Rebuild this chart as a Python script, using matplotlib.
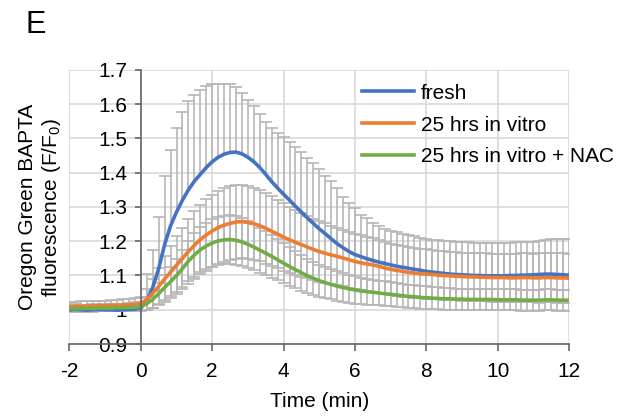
"""
Ca2+ transient plot (panel E), Oregon Green BAPTA F/F0 vs time
"""

import numpy as np
import matplotlib
matplotlib.use('Agg')
import matplotlib.pyplot as plt

plt.rcParams['font.family'] = ['Liberation Sans', 'DejaVu Sans']
plt.rcParams['axes.unicode_minus'] = False

# sampled every 10 s from -2 to 12 min, one row per minute
fresh = [
    1.000, 1.001, 1.000, 0.999, 1.000, 1.001,
    1.000, 1.000, 0.999, 1.000, 1.001, 1.002,
    1.005, 1.025, 1.065, 1.120, 1.190, 1.245,
    1.285, 1.320, 1.350, 1.375, 1.395, 1.415,
    1.432, 1.445, 1.454, 1.459, 1.460, 1.455,
    1.445, 1.432, 1.415, 1.395, 1.374, 1.355,
    1.337, 1.320, 1.302, 1.285, 1.268, 1.252,
    1.236, 1.222, 1.207, 1.193, 1.181, 1.170,
    1.161, 1.155, 1.149, 1.144, 1.139, 1.135,
    1.131, 1.127, 1.124, 1.121, 1.118, 1.115,
    1.112, 1.110, 1.108, 1.106, 1.104, 1.103,
    1.102, 1.101, 1.100, 1.100, 1.099, 1.099,
    1.099, 1.099, 1.100, 1.100, 1.101, 1.101,
    1.102, 1.103, 1.104, 1.104, 1.103, 1.102,
    1.101,
]
# fresh: upper error only
fresh_err = [
    0.015, 0.015, 0.014, 0.015, 0.016, 0.016,
    0.016, 0.017, 0.018, 0.018, 0.019, 0.022,
    0.030, 0.080, 0.110, 0.150, 0.200, 0.220,
    0.245, 0.258, 0.258, 0.253, 0.247, 0.239,
    0.227, 0.215, 0.206, 0.200, 0.191, 0.177,
    0.168, 0.162, 0.156, 0.152, 0.155, 0.160,
    0.166, 0.170, 0.174, 0.176, 0.175, 0.177,
    0.176, 0.168, 0.170, 0.161, 0.149, 0.141,
    0.135, 0.122, 0.118, 0.108, 0.104, 0.102,
    0.100, 0.099, 0.098, 0.097, 0.096, 0.095,
    0.094, 0.094, 0.095, 0.095, 0.096, 0.096,
    0.096, 0.096, 0.095, 0.095, 0.095, 0.095,
    0.095, 0.096, 0.096, 0.097, 0.097, 0.097,
    0.097, 0.098, 0.100, 0.102, 0.103, 0.104,
    0.105,
]
vitro = [
    1.009, 1.010, 1.010, 1.011, 1.011, 1.012,
    1.012, 1.013, 1.013, 1.014, 1.015, 1.016,
    1.018, 1.030, 1.048, 1.068, 1.090, 1.110,
    1.130, 1.150, 1.170, 1.188, 1.205, 1.218,
    1.230, 1.240, 1.247, 1.252, 1.256, 1.257,
    1.255, 1.251, 1.245, 1.238, 1.229, 1.221,
    1.212, 1.204, 1.197, 1.190, 1.183, 1.176,
    1.170, 1.165, 1.160, 1.156, 1.151, 1.146,
    1.141, 1.137, 1.134, 1.131, 1.127, 1.122,
    1.118, 1.115, 1.112, 1.109, 1.107, 1.105,
    1.104, 1.103, 1.101, 1.100, 1.099, 1.098,
    1.097, 1.096, 1.096, 1.095, 1.095, 1.094,
    1.094, 1.094, 1.093, 1.093, 1.094, 1.094,
    1.093, 1.093, 1.094, 1.094, 1.093, 1.093,
    1.092,
]
vitro_err = [
    0.014, 0.014, 0.015, 0.015, 0.015, 0.015,
    0.015, 0.016, 0.016, 0.016, 0.017, 0.018,
    0.020, 0.030, 0.042, 0.055, 0.066, 0.076,
    0.084, 0.090, 0.095, 0.099, 0.102, 0.104,
    0.106, 0.107, 0.108, 0.108, 0.108, 0.107,
    0.106, 0.105, 0.104, 0.103, 0.102, 0.100,
    0.099, 0.097, 0.095, 0.093, 0.091, 0.090,
    0.088, 0.087, 0.085, 0.084, 0.083, 0.082,
    0.081, 0.080, 0.079, 0.078, 0.077, 0.076,
    0.075, 0.075, 0.074, 0.073, 0.073, 0.072,
    0.072, 0.071, 0.071, 0.071, 0.070, 0.070,
    0.070, 0.070, 0.070, 0.070, 0.070, 0.070,
    0.070, 0.070, 0.071, 0.071, 0.071, 0.071,
    0.071, 0.072, 0.072, 0.072, 0.072, 0.072,
    0.072,
]
nac = [
    1.003, 1.003, 1.004, 1.004, 1.004, 1.005,
    1.005, 1.005, 1.006, 1.006, 1.007, 1.007,
    1.009, 1.018, 1.030, 1.047, 1.065, 1.082,
    1.100, 1.120, 1.142, 1.160, 1.175, 1.186,
    1.195, 1.201, 1.204, 1.205, 1.203, 1.198,
    1.191, 1.183, 1.174, 1.165, 1.156, 1.146,
    1.136, 1.126, 1.117, 1.108, 1.099, 1.092,
    1.085, 1.079, 1.074, 1.069, 1.065, 1.061,
    1.058, 1.055, 1.053, 1.051, 1.049, 1.047,
    1.045, 1.043, 1.041, 1.039, 1.038, 1.036,
    1.035, 1.034, 1.033, 1.032, 1.032, 1.031,
    1.031, 1.030, 1.030, 1.030, 1.030, 1.030,
    1.029, 1.029, 1.029, 1.029, 1.028, 1.028,
    1.028, 1.028, 1.029, 1.029, 1.028, 1.028,
    1.028,
]
nac_err = [
    0.010, 0.010, 0.010, 0.010, 0.010, 0.010,
    0.010, 0.010, 0.011, 0.011, 0.011, 0.012,
    0.013, 0.018, 0.024, 0.030, 0.036, 0.042,
    0.048, 0.054, 0.059, 0.063, 0.066, 0.068,
    0.069, 0.070, 0.071, 0.071, 0.071, 0.070,
    0.069, 0.068, 0.066, 0.064, 0.062, 0.060,
    0.058, 0.056, 0.054, 0.052, 0.050, 0.048,
    0.047, 0.045, 0.044, 0.043, 0.042, 0.041,
    0.040, 0.039, 0.038, 0.037, 0.036, 0.036,
    0.035, 0.035, 0.034, 0.034, 0.033, 0.033,
    0.033, 0.032, 0.032, 0.032, 0.032, 0.031,
    0.031, 0.031, 0.031, 0.031, 0.031, 0.031,
    0.031, 0.031, 0.031, 0.031, 0.031, 0.031,
    0.031, 0.031, 0.031, 0.031, 0.031, 0.031,
    0.031,
]
labels = ['fresh', '25 hrs in vitro', '25 hrs in vitro + NAC']
colors = ['#4472C4', '#ED7D31', '#70AD47']

time = np.arange(len(fresh)) / 6.0 - 2.0  # 10 s steps

ERR_COLOR = '#B7B5B5'
CAP = 4.5

fig = plt.figure(figsize=(6.43, 4.16), dpi=100)
ax = fig.add_axes([0.108, 0.173, 0.777, 0.659])

# fresh: plus-only bars, drawn by hand so no cap sits on the line
fresh_top = np.array(fresh) + np.array(fresh_err)
ax.vlines(time, fresh, fresh_top, color=ERR_COLOR, lw=1.2, zorder=2)
ax.plot(time, fresh_top, ls='none', marker='_', ms=CAP * 2, mew=1.2,
        color=ERR_COLOR, zorder=2)
for mean, err in [(vitro, vitro_err), (nac, nac_err)]:
    ax.errorbar(time, mean, yerr=err, fmt='none', ecolor=ERR_COLOR,
                elinewidth=1.2, capsize=CAP, capthick=1.2, zorder=2)
for mean, lab, c in zip([fresh, vitro, nac], labels, colors):
    ax.plot(time, mean, color=c, lw=2.6, label=lab, zorder=3)

ax.set_xlim(-2, 12)
ax.set_ylim(0.9, 1.7)
ax.set_xticks(np.arange(-2, 13, 2))
ax.set_yticks([0.9, 1.0, 1.1, 1.2, 1.3, 1.4, 1.5, 1.6, 1.7])
ax.set_yticklabels(['0.9', '1', '1.1', '1.2', '1.3', '1.4', '1.5', '1.6', '1.7'])

ax.grid(True, color='#D9D9D9', lw=1.2)
ax.set_axisbelow(True)
for s in ['top', 'right']:
    ax.spines[s].set_visible(False)
ax.spines['left'].set_position(('data', 0))
for s in ['left', 'bottom']:
    ax.spines[s].set_color('#666666')
    ax.spines[s].set_linewidth(1.2)
    ax.spines[s].set_zorder(4)
ax.tick_params(axis='x', direction='out', length=5, width=1.2, color='#666666',
               labelsize=15, pad=8)
ax.tick_params(axis='y', direction='out', length=4, width=1.2, color='#666666',
               labelsize=15, pad=6)

ax.set_xlabel('Time (min)', fontsize=15, labelpad=8)
fig.text(0.063, 0.502, 'Oregon Green BAPTA\nfluorescence (F/F$\\mathregular{_0}$)',
         rotation=90, ha='center', va='center', fontsize=15, linespacing=1.15)
fig.text(0.056, 0.94, 'E', fontsize=22, ha='center', va='center')

ax.legend(loc='upper left', bbox_to_anchor=(0.586, 0.95), frameon=False,
          fontsize=15, handlelength=2.5, handletextpad=0.3, labelspacing=0.62,
          borderpad=0, borderaxespad=0)

plt.savefig('out.png', dpi=100)
plt.close()
